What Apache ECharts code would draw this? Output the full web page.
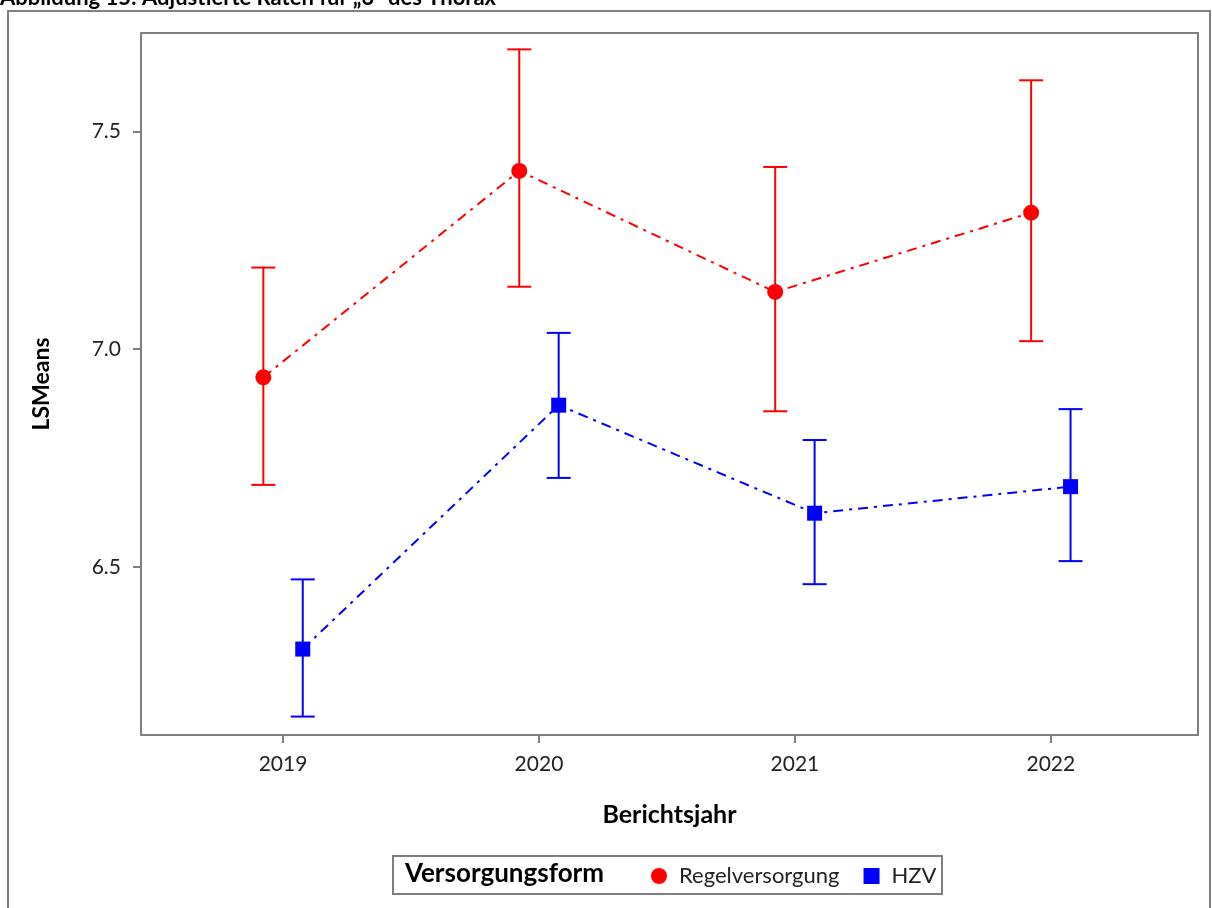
<!DOCTYPE html>
<html>
<head>
<meta charset="utf-8">
<script src="https://cdn.jsdelivr.net/npm/echarts@6/dist/echarts.min.js"></script>
<style>
  html, body { margin: 0; padding: 0; background: #fff; }
  #chart { width: 1212px; height: 908px; }
</style>
</head>
<body>
<div id="chart"></div>
<script>
// data
var years = [2019, 2020, 2021, 2022]
var yTicks = [6.5, 7.0, 7.5]

var regelMean = [6.935, 7.409, 7.131, 7.313]
var regelLower = [6.688, 7.143, 6.857, 7.018]
var regelUpper = [7.187, 7.688, 7.418, 7.617]

var hzvMean = [6.311, 6.871, 6.623, 6.684]
var hzvLower = [6.156, 6.704, 6.460, 6.513]
var hzvUpper = [6.471, 7.037, 6.791, 6.862]

var dodge = 0.077
var font = 'Lato, "Open Sans", sans-serif'
var frameGray = '#7f7f7f'
var red = '#ff0000'
var blue = '#0000ff'

function points(means, shift) {
  return years.map(function (y, i) { return [y + shift, means[i]] })
}
function bars(lo, hi, shift) {
  return years.map(function (y, i) { return [y + shift, lo[i], hi[i]] })
}

function errorBar(color) {
  return function (params, api) {
    var x = api.value(0)
    var lo = api.coord([x, api.value(1)])
    var hi = api.coord([x, api.value(2)])
    var hw = 12
    var st = { stroke: color, lineWidth: 2 }
    return {
      type: 'group',
      children: [
        { type: 'line', shape: { x1: lo[0], y1: lo[1], x2: hi[0], y2: hi[1] }, style: st },
        { type: 'line', shape: { x1: lo[0] - hw, y1: lo[1], x2: lo[0] + hw, y2: lo[1] }, style: st },
        { type: 'line', shape: { x1: hi[0] - hw, y1: hi[1], x2: hi[0] + hw, y2: hi[1] }, style: st }
      ]
    }
  }
}

var chart = echarts.init(document.getElementById('chart'))
chart.setOption({
  animation: false,
  backgroundColor: '#fff',
  textStyle: { fontFamily: font },
  graphic: [
    {
      type: 'text', left: 0, top: -13, silent: true,
      style: {
        text: 'Abbildung 15: Adjustierte Raten für „3“ des Thorax',
        font: 'bold 22px ' + font, fill: '#000'
      }
    },
    {
      type: 'rect', silent: true, z: -10,
      shape: { x: 8, y: 11, width: 1202, height: 920 },
      style: { fill: 'none', stroke: frameGray, lineWidth: 2 }
    },
    {
      type: 'rect', silent: true,
      shape: { x: 393, y: 856, width: 549, height: 38 },
      style: { fill: '#fff', stroke: frameGray, lineWidth: 2 }
    },
    {
      type: 'text', silent: true, z: 10,
      style: {
        x: 405, y: 874, text: 'Versorgungsform', verticalAlign: 'middle',
        font: 'bold 26px ' + font, fill: '#000'
      }
    }
  ],
  grid: {
    left: 141, top: 33, width: 1057, height: 702,
    show: true, borderColor: frameGray, borderWidth: 2, backgroundColor: '#fff'
  },
  legend: {
    left: 646, top: 860, itemWidth: 16, itemHeight: 16, itemGap: 24, z: 20,
    data: [{ name: 'Regelversorgung', icon: 'circle' }, { name: 'HZV', icon: 'rect' }],
    textStyle: { fontSize: 22, color: '#222', fontFamily: font, padding: [0, 0, 0, 7] }
  },
  xAxis: {
    type: 'value', min: 2018.445, max: 2022.575,
    name: 'Berichtsjahr', nameLocation: 'middle', nameGap: 67,
    nameTextStyle: { fontSize: 25, fontWeight: 'bold', color: '#000' },
    axisLine: { show: false },
    splitLine: { show: false },
    axisTick: { show: true, length: 8, customValues: years, lineStyle: { color: frameGray, width: 2 } },
    axisLabel: {
      customValues: years, fontSize: 21, color: '#222', margin: 19,
      formatter: function (v) { return String(v) }
    }
  },
  yAxis: {
    type: 'value', min: 6.1137, max: 7.7256,
    name: 'LSMeans', nameLocation: 'middle', nameGap: 88,
    nameTextStyle: { fontSize: 23, fontWeight: 'bold', color: '#000' },
    axisLine: { show: false },
    splitLine: { show: false },
    axisTick: { show: true, length: 8, customValues: yTicks, lineStyle: { color: frameGray, width: 2 } },
    axisLabel: {
      customValues: yTicks, fontSize: 21, color: '#222', margin: 20,
      formatter: function (v) { return v.toFixed(1) }
    }
  },
  series: [
    {
      name: 'Regelversorgung', type: 'line', z: 3,
      symbol: 'circle', symbolSize: 16, showSymbol: true,
      itemStyle: { color: red },
      lineStyle: { color: red, width: 2, type: [10, 6, 3, 6] },
      data: points(regelMean, -dodge)
    },
    {
      name: 'HZV', type: 'line', z: 3,
      symbol: 'rect', symbolSize: 15, showSymbol: true,
      itemStyle: { color: blue },
      lineStyle: { color: blue, width: 2, type: [10, 6, 3, 6] },
      data: points(hzvMean, dodge)
    },
    {
      name: 'Regelversorgung', type: 'custom', z: 2,
      itemStyle: { color: red },
      renderItem: errorBar(red),
      encode: { x: 0, y: [1, 2] },
      data: bars(regelLower, regelUpper, -dodge)
    },
    {
      name: 'HZV', type: 'custom', z: 2,
      itemStyle: { color: blue },
      renderItem: errorBar(blue),
      encode: { x: 0, y: [1, 2] },
      data: bars(hzvLower, hzvUpper, dodge)
    }
  ]
})
</script>
</body>
</html>
